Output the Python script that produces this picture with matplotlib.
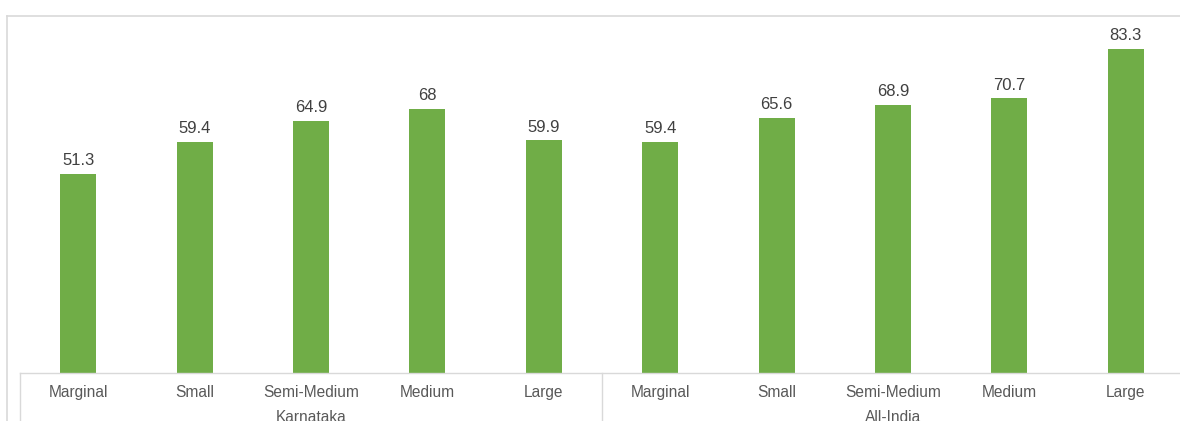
import matplotlib.pyplot as plt
from matplotlib.lines import Line2D

plt.rcParams['font.family'] = ['Liberation Sans', 'DejaVu Sans']

# data
categories = ['Marginal', 'Small', 'Semi-Medium', 'Medium', 'Large',
              'Marginal', 'Small', 'Semi-Medium', 'Medium', 'Large']
groups = ['Karnataka', 'All-India']
values = [51.3, 59.4, 64.9, 68, 59.9, 59.4, 65.6, 68.9, 70.7, 83.3]
value_labels = ['51.3', '59.4', '64.9', '68', '59.9', '59.4', '65.6', '68.9', '70.7', '83.3']

W, H = 1180, 421
fig = plt.figure(figsize=(W / 100, H / 100), dpi=100)

# plot area in pixels: x 20..1184, y 23..373
ax = fig.add_axes([20 / W, (H - 373) / H, 1164 / W, 350 / H])
x = list(range(len(values)))
bars = ax.bar(x, values, width=0.31, color='#70AD47')
ax.bar_label(bars, labels=value_labels, padding=4, fontsize=12, color='#404040')

ax.set_xlim(-0.5, len(values) - 0.5)
ax.set_ylim(0, 90)
ax.set_yticks([])
ax.set_xticks(x)
ax.set_xticklabels(categories, fontsize=11.2, color='#595959')
ax.tick_params(axis='x', length=0, pad=8.5)
for s in ['top', 'right', 'left']:
    ax.spines[s].set_visible(False)
ax.spines['bottom'].set_color('#D9D9D9')
ax.spines['bottom'].set_linewidth(1)

# group labels
for i, g in enumerate(groups):
    ax.text(i * 5 + 2, -44 / 350 * 90, g, ha='center', va='center',
            fontsize=11.2, color='#595959', transform=ax.transData, clip_on=False)

# separators of the category table
grid = '#D9D9D9'
for px in [20, 602]:
    fig.add_artist(Line2D([px / W, px / W], [0, (H - 373) / H],
                          transform=fig.transFigure, color=grid, lw=1))

# outer chart frame
fig.add_artist(Line2D([7 / W, 7 / W], [0, (H - 16) / H],
                      transform=fig.transFigure, color=grid, lw=1.2))
fig.add_artist(Line2D([7 / W, 1], [(H - 16) / H, (H - 16) / H],
                      transform=fig.transFigure, color=grid, lw=1.2))

fig.savefig('out.png', dpi=100)
